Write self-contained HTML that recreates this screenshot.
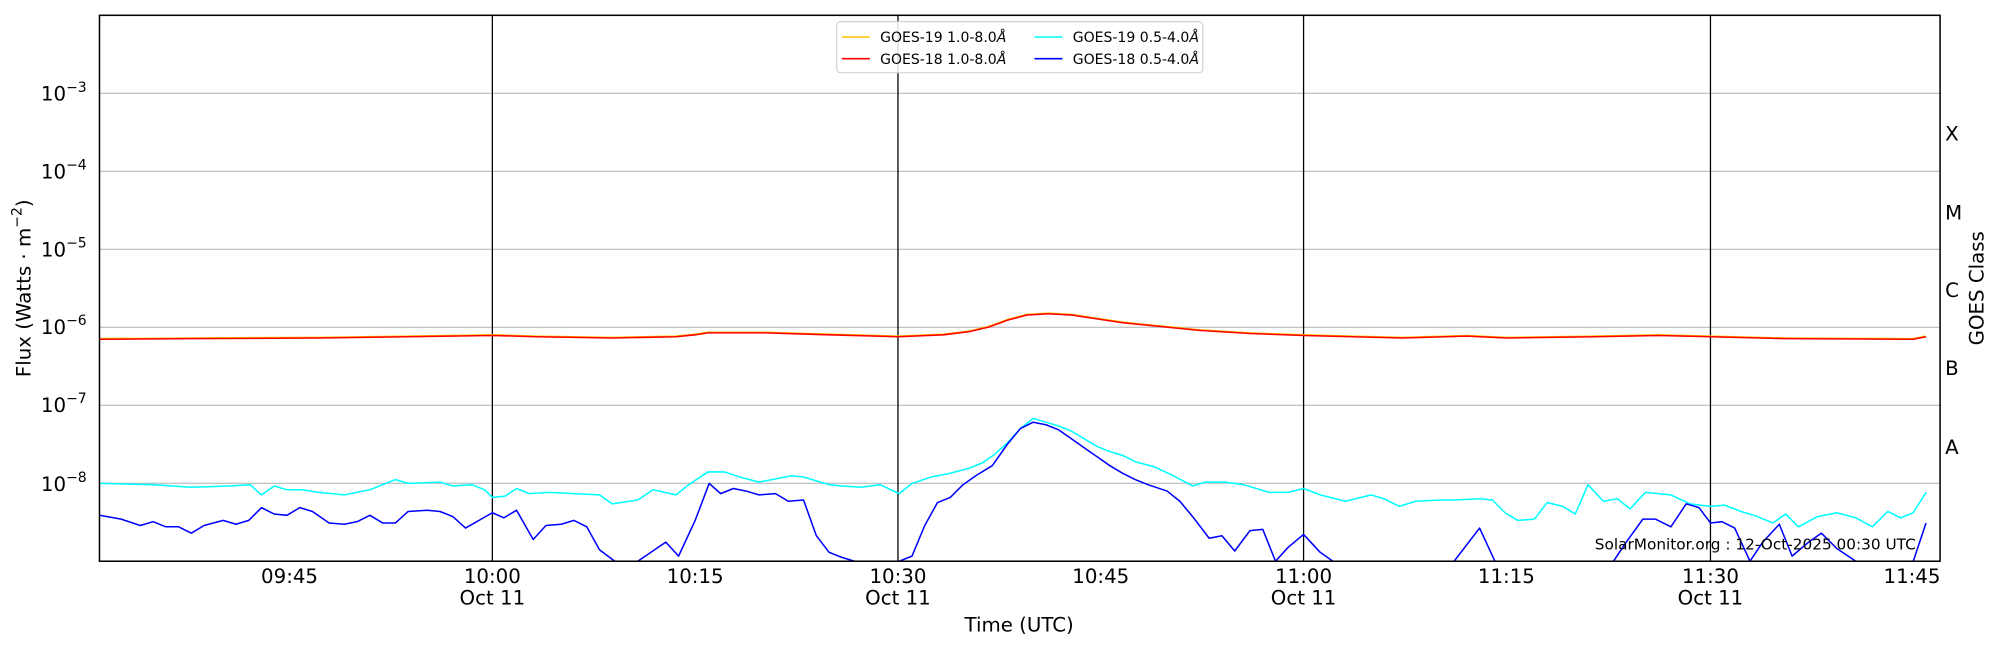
<!DOCTYPE html>
<html><head><meta charset="utf-8"><style>
html,body{margin:0;padding:0;background:#fff;}
svg{display:block;font-family:"DejaVu Sans","Liberation Sans",sans-serif;}
</style></head><body>
<svg width="2000" height="650" viewBox="0 0 1568 509.6" xmlns="http://www.w3.org/2000/svg">
<rect width="1568" height="509.6" fill="#fff"/>
<g stroke="#b0b0b0" stroke-width="0.8">
<line x1="78" x2="1521" y1="73.1" y2="73.1"/>
<line x1="78" x2="1521" y1="134.3" y2="134.3"/>
<line x1="78" x2="1521" y1="195.4" y2="195.4"/>
<line x1="78" x2="1521" y1="256.6" y2="256.6"/>
<line x1="78" x2="1521" y1="317.7" y2="317.7"/>
<line x1="78" x2="1521" y1="378.9" y2="378.9"/>
</g>
<g stroke="#000" stroke-width="1">
<line x1="386" x2="386" y1="12" y2="440"/>
<line x1="704" x2="704" y1="12" y2="440"/>
<line x1="1022" x2="1022" y1="12" y2="440"/>
<line x1="1341" x2="1341" y1="12" y2="440"/>
</g>
<g id="ticks" stroke="#000" stroke-width="0.8"></g>
<g fill="none" stroke-width="1.2" stroke-linejoin="round">
<polyline stroke="#00ffff" points="78,379 120,380 150,382 180,381 196,380 205,388 215,381 225,384 237,384 250,386 270,388 290,384 310,376 320,379 345,378 355,381 370,380 380,384 386,390 396,389 405,383 415,387 430,386 450,387 470,388 480,395 500,392 512,384 530,388 540,380 555,370 568,370 580,374 595,378 610,375 620,373 630,374 640,377 650,380 660,381 675,382 690,380 705,387 715,379 730,374 745,371 760,367 770,363 780,356 790,347 800,336 810,328 820,331 830,334 840,338 850,344 860,350 870,354 880,357 890,362 905,366 920,373 935,381 945,378 960,378 975,380 995,386 1010,386 1022,383 1035,388 1055,393 1075,388 1085,391 1097,397 1110,393 1130,392 1140,392 1160,391 1170,392 1180,402 1190,408 1203,407 1213,394 1225,397 1235,403 1245,380 1257,393 1268,391 1278,399 1290,386 1300,387 1310,388 1325,395 1341,397 1352,396 1365,401 1375,404 1390,410 1400,403 1410,413 1425,405 1440,402 1455,406 1468,413 1480,401 1490,406 1500,402 1510,386"/>
<polyline stroke="#0000ff" points="78,404 95,407 110,412 120,409 130,413 140,413 150,418 160,412 175,408 185,411 195,408 205,398 215,403 225,404 235,398 245,401 258,410 270,411 280,409 290,404 300,410 310,410 320,401 335,400 345,401 355,405 365,414 386,402 395,406 405,400 418,423 428,412 440,411 450,408 460,413 470,431 482,440 500,440 522,425 532,436 545,408 556,379 565,387 575,383 585,385 595,388 608,387 618,393 630,392 640,420 650,433 660,437 670,440 705,440 715,436 725,412 735,394 745,390 755,380 765,373 778,365 790,348 800,336 810,331 820,333 830,337 840,344 850,351 860,358 870,365 880,371 890,376 900,380 915,385 925,393 935,405 948,422 958,420 968,432 980,416 990,415 1000,440 1010,429 1022,419 1035,433 1045,440 1140,440 1160,414 1172,440 1265,440 1275,425 1288,407 1298,407 1310,413 1322,395 1332,398 1341,410 1350,409 1360,414 1372,440 1382,425 1395,411 1405,436 1418,425 1428,418 1440,430 1455,440 1500,440 1510,410"/>
<polyline stroke="#ffc000" points="78,265.5 150,265 250,264.5 320,263.5 386,262.5 420,263.5 480,264.5 530,263.5 545,262 555,260.5 600,260.5 650,262 704,263.5 740,262 760,259.5 775,256 790,250.5 805,246.5 822,245.5 840,246.5 860,249.5 880,252.5 900,254.5 940,258.5 980,261 1022,262.5 1060,263.5 1100,264.5 1150,263 1181,264.5 1250,263.5 1300,262.5 1341,263.5 1400,265 1500,265.5 1510,263.5"/>
<polyline stroke="#ff0000" points="78,266 150,265.5 250,265 320,264 386,263 420,264 480,265 530,264 545,262.5 555,261 600,261 650,262.5 704,264 740,262.5 760,260 775,256.5 790,251 805,247 822,246 840,247 860,250 880,253 900,255 940,259 980,261.5 1022,263 1060,264 1100,265 1150,263.5 1181,265 1250,264 1300,263 1341,264 1400,265.5 1500,266 1510,264"/>
</g>
<rect x="78" y="12" width="1443" height="428" fill="none" stroke="#000" stroke-width="1.2"/>
<g font-size="15.5" fill="#000" text-anchor="end">
<text x="68" y="79">10<tspan font-size="11" dy="-7">−3</tspan></text>
<text x="68" y="140">10<tspan font-size="11" dy="-7">−4</tspan></text>
<text x="68" y="201">10<tspan font-size="11" dy="-7">−5</tspan></text>
<text x="68" y="262">10<tspan font-size="11" dy="-7">−6</tspan></text>
<text x="68" y="323">10<tspan font-size="11" dy="-7">−7</tspan></text>
<text x="68" y="385">10<tspan font-size="11" dy="-7">−8</tspan></text>
</g>
<g font-size="15.5" fill="#000" text-anchor="middle">
<text x="227" y="457">09:45</text>
<text x="386" y="457">10:00</text><text x="386" y="474">Oct 11</text>
<text x="545" y="457">10:15</text>
<text x="704" y="457">10:30</text><text x="704" y="474">Oct 11</text>
<text x="863" y="457">10:45</text>
<text x="1022" y="457">11:00</text><text x="1022" y="474">Oct 11</text>
<text x="1181" y="457">11:15</text>
<text x="1341" y="457">11:30</text><text x="1341" y="474">Oct 11</text>
<text x="1499" y="457">11:45</text>
<text x="799" y="495">Time (UTC)</text>
<text transform="translate(24,226) rotate(-90)">Flux (Watts · m<tspan font-size="11" dy="-7">−2</tspan><tspan dy="7">)</tspan></text>
<text transform="translate(1555,226) rotate(-90)">GOES Class</text>
</g>
<g font-size="15.5" fill="#000">
<text x="1525" y="110">X</text>
<text x="1525" y="172">M</text>
<text x="1525" y="233">C</text>
<text x="1525" y="294">B</text>
<text x="1525" y="356">A</text>
</g>
<text x="1502" y="431" font-size="12" text-anchor="end" fill="#000">SolarMonitor.org : 12-Oct-2025 00:30 UTC</text>
<rect x="656" y="17" width="287" height="40" rx="3" fill="#fff" fill-opacity="0.85" stroke="#cccccc" stroke-width="0.8"/>
<g stroke-width="1.2">
<line x1="660" x2="682" y1="29" y2="29" stroke="#ffc000"/>
<line x1="660" x2="682" y1="46" y2="46" stroke="#ff0000"/>
<line x1="811" x2="833" y1="29" y2="29" stroke="#00ffff"/>
<line x1="811" x2="833" y1="46" y2="46" stroke="#0000ff"/>
</g>
<g font-size="11" fill="#000">
<text x="690" y="33">GOES-19 1.0-8.0<tspan font-style="italic">Å</tspan></text>
<text x="690" y="50">GOES-18 1.0-8.0<tspan font-style="italic">Å</tspan></text>
<text x="841" y="33">GOES-19 0.5-4.0<tspan font-style="italic">Å</tspan></text>
<text x="841" y="50">GOES-18 0.5-4.0<tspan font-style="italic">Å</tspan></text>
</g>
<script>
(function(){
var g=document.getElementById('ticks'),s='',d=61.14;
function L(x1,y1,x2,y2){s+='<line x1="'+x1+'" y1="'+y1+'" x2="'+x2+'" y2="'+y2+'"/>';}
for(var n=0;n<7;n++){var base=440-n*d;
 if(n>0){L(78,base,86,base);L(1521,base,1513,base);}
 for(var k=2;k<10;k++){var y=base-Math.log10(k)*d;L(78,y,82,y);L(1521,y,1517,y);}}
[227,386,545,704,863,1022,1181,1341,1499].forEach(function(x){L(x,440,x,434);});
g.innerHTML=s;})();
</script>
</svg>
</body></html>
